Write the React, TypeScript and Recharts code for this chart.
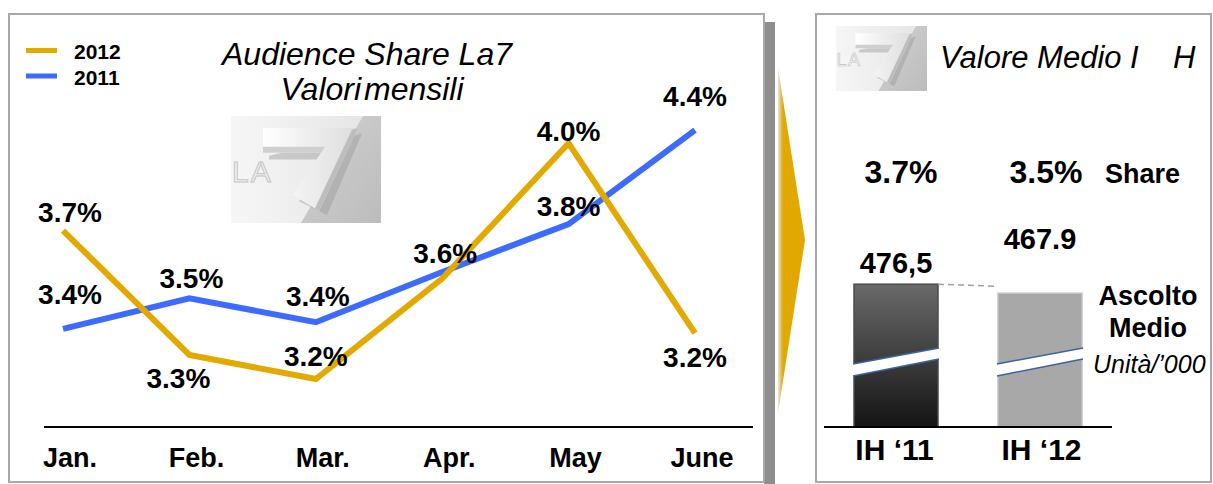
import React from 'react';
import { LineChart, Line, XAxis, YAxis, LabelList, BarChart, Bar, Cell } from 'recharts';

const FONT = '"Liberation Sans", Arial, Helvetica, sans-serif';

// ---------- data ----------
const months = ['Jan.', 'Feb.', 'Mar.', 'Apr.', 'May', 'June'];
const seriesNames = ['2012', '2011'];
const share2012 = [3.8, 3.23, 3.12, 3.58, 4.2, 3.33];
const share2011 = [3.35, 3.49, 3.38, 3.61, 3.83, 4.26];
const labels2012 = ['3.7%', '3.3%', '3.2%', '3.6%', '4.0%', '3.2%'];
const labels2011 = ['3.4%', '3.5%', '3.4%', '', '3.8%', '4.4%'];

const periods = ['IH \u201811', 'IH \u201812'];
const ascoltoMedio = [476.5, 467.9];
const ascoltoLabels = ['476,5', '467.9'];
const shareHalfYear = ['3.7%', '3.5%'];

// ---------- styles / layout ----------
const YELLOW = '#E2AA00';
const BLUE = '#3D6BFF';
const seriesColors = [YELLOW, BLUE];
const off2012 = [[7, -19], [-11, 23], [0, -23], [3, -26], [0, -12], [0, 24]];
const off2011 = [[7, -35], [2, -20], [2, -26], [0, 0], [0, -18], [0, -34]];
const monthDx = 7;
const barFills = ['url(#darkBar)', '#A8A8A8'];
const barStrokes = ['#4a4a4a', '#C2C2C2'];
const barLabelDy = [-11, -44];
const shareDx = [5, 6];
const periodDx = [-1.5, 1.5];

const lineData = months.map((m, i) => ({
  month: m,
  s2012: share2012[i],
  s2011: share2011[i],
  l2012: labels2012[i],
  l2011: labels2011[i],
}));

const barData = periods.map((p, i) => ({
  period: p,
  value: ascoltoMedio[i],
  valueLabel: ascoltoLabels[i],
  share: shareHalfYear[i],
}));

const pointLabel = (texts: string[], offs: number[][]) => (props: any) => {
  const { x, y, index } = props;
  const t = texts[index];
  if (!t) return null;
  const [dx, dy] = offs[index];
  return (
    <text x={Number(x) + dx} y={Number(y) + dy + 10} textAnchor="middle" fontFamily={FONT} fontWeight={700} fontSize={28} fill="#000">
      {t}
    </text>
  );
};

const MonthTick = (props: any) => {
  const { x, y, payload } = props;
  return (
    <text x={x + monthDx} y={y + 32} textAnchor="middle" fontFamily={FONT} fontWeight={700} fontSize={27} fill="#000">
      {payload.value}
    </text>
  );
};

const PeriodTick = (props: any) => {
  const { x, y, payload, index } = props;
  return (
    <text x={x + (periodDx[index] || 0)} y={y + 25} textAnchor="middle" fontFamily={FONT} fontWeight={700} fontSize={30} fill="#000">
      {payload.value}
    </text>
  );
};

const BreakBar = (props: any) => {
  const { x, y, width, height, fill, stroke, index } = props;
  const b = y + height;
  const band = `${x - 1},${b - 63} ${x + width + 1},${b - 79} ${x + width + 1},${b - 68} ${x - 1},${b - 51}`;
  return (
    <g>
      <rect x={x} y={y} width={width} height={height} fill={fill} stroke={stroke} strokeWidth={1.5} />
      <polygon points={band} fill="#fff" />
      <line x1={x - 1} y1={b - 63} x2={x + width + 1} y2={b - 79} stroke="#3C64A0" strokeWidth={1.5} />
      <line x1={x - 1} y1={b - 51} x2={x + width + 1} y2={b - 68} stroke="#3C64A0" strokeWidth={1.5} />
      {index === 0 && (
        <line x1={x + width} y1={y} x2={x + width + 58} y2={y + 2} stroke="#A0A0A0" strokeWidth={1.5} strokeDasharray="6 4" />
      )}
    </g>
  );
};

const barValueLabel = (props: any) => {
  const { x, y, width, index, value } = props;
  return (
    <text x={Number(x) + Number(width) / 2} y={Number(y) + barLabelDy[index]} textAnchor="middle" fontFamily={FONT} fontWeight={700} fontSize={29} fill="#000">
      {value}
    </text>
  );
};

const shareLabel = (props: any) => {
  const { x, width, index, value } = props;
  return (
    <text x={Number(x) + Number(width) / 2 + shareDx[index]} y={183} textAnchor="middle" fontFamily={FONT} fontWeight={700} fontSize={32} fill="#000">
      {value}
    </text>
  );
};

const Logo = ({ x, y, w, h, id }: { x: number; y: number; w: number; h: number; id: string }) => (
  <svg x={x} y={y} width={w} height={h} viewBox="0 0 150 108" preserveAspectRatio="none">
    <defs>
      <linearGradient id={id + 'bg'} x1="0" y1="0" x2="1" y2="0">
        <stop offset="0" stopColor="#f6f6f6" />
        <stop offset="1" stopColor="#e4e4e4" />
      </linearGradient>
      <linearGradient id={id + 'gr'} x1="0" y1="0" x2="1" y2="1">
        <stop offset="0" stopColor="#d2d2d2" />
        <stop offset="1" stopColor="#bcbcbc" />
      </linearGradient>
      <linearGradient id={id + 'sv'} x1="0" y1="0" x2="1" y2="0">
        <stop offset="0" stopColor="#ffffff" />
        <stop offset="1" stopColor="#dcdcdc" />
      </linearGradient>
    </defs>
    <rect x={0} y={0} width={150} height={108} fill={`url(#${id}bg)`} />
    <polygon points="132,0 150,0 150,108 70,108" fill={`url(#${id}gr)`} />
    <text x={1} y={67} fontFamily={FONT} fontSize={30} fill="#f2f2f2" stroke="#c4c4c4" strokeWidth={1} letterSpacing={2}>LA</text>
    <polygon points="38,40 131,18 96,100 68,86 94,44 38,44" fill="#9a9a9a" opacity={0.45} />
    <polygon points="32,12 127,12 88,96 62,80 90,37 32,37" fill={`url(#${id}sv)`} />
    <polygon points="32,31 94,31 90,37 32,37" fill="#cfcfcf" />
    <polygon points="127,12 88,96 84,93 121,14" fill="#bdbdbd" />
  </svg>
);

export default function App() {
  return (
    <div style={{ position: 'absolute', left: 0, top: 0, width: 1213, height: 484, background: '#fff', overflow: 'hidden', fontFamily: FONT }}>
      {/* panels */}
      <div style={{ position: 'absolute', left: 764, top: 22, width: 11, height: 462, background: '#8E8E8E' }} />
      <div style={{ position: 'absolute', left: 8, top: 13, width: 757, height: 470, border: '2px solid #A8A8A8', boxSizing: 'border-box', background: '#fff' }} />
      <div style={{ position: 'absolute', left: 815, top: 13, width: 397, height: 470, border: '2px solid #A8A8A8', boxSizing: 'border-box', background: '#fff' }} />

      {/* static overlay */}
      <svg style={{ position: 'absolute', left: 0, top: 0 }} width={1213} height={484}>
        <defs>
          <linearGradient id="arrowGrad" x1="0" y1="0" x2="1" y2="0">
            <stop offset="0" stopColor="#e6e6e6" />
            <stop offset="0.18" stopColor="#E0A800" />
            <stop offset="1" stopColor="#E0A800" />
          </linearGradient>
        </defs>
        <polygon points="778,68 805,240 778,413" fill="url(#arrowGrad)" />

        {/* legend */}
        {seriesNames.map((n, i) => (
          <g key={n}>
            <rect x={26} y={48 + i * 25.5} width={31} height={5} fill={seriesColors[i]} />
            <text x={74} y={59 + i * 25.5} fontFamily={FONT} fontWeight={700} fontSize={21} fill="#000">{n}</text>
          </g>
        ))}

        {/* title */}
        <text x={367} y={65} textAnchor="middle" fontFamily={FONT} fontStyle="italic" fontSize={32} fill="#000">Audience Share La7</text>
        <text x={372} y={100} textAnchor="middle" fontFamily={FONT} fontStyle="italic" fontSize={32} wordSpacing={-6} fill="#000">Valori mensili</text>

        <Logo x={231} y={116} w={150} h={107} id="lg1" />
        <Logo x={836} y={26} w={91} h={65} id="lg2" />

        {/* right panel texts */}
        <text x={940} y={68} fontFamily={FONT} fontStyle="italic" fontSize={31} fill="#000">
          Valore Medio I
          <tspan x={1173}>H</tspan>
        </text>
        <text x={1105} y={183} fontFamily={FONT} fontWeight={700} fontSize={27} fill="#000">Share</text>
        <text x={1148} y={305} textAnchor="middle" fontFamily={FONT} fontWeight={700} fontSize={27} fill="#000">Ascolto</text>
        <text x={1148} y={337} textAnchor="middle" fontFamily={FONT} fontWeight={700} fontSize={27} fill="#000">Medio</text>
        <text x={1093} y={373} fontFamily={FONT} fontStyle="italic" fontSize={25} fill="#000">Unità/’000</text>
      </svg>

      {/* line chart */}
      <div style={{ position: 'absolute', left: 0, top: 0 }}>
        <LineChart width={765} height={484} data={lineData} margin={{ top: 56, right: 12, bottom: 0, left: 44 }}>
          <XAxis
            dataKey="month"
            height={57}
            padding={{ left: 19, right: 58 }}
            axisLine={{ stroke: '#000', strokeWidth: 2 }}
            tickLine={false}
            tick={<MonthTick />}
            interval={0}
          />
          <YAxis hide domain={[2.9, 4.6]} allowDataOverflow />
          <Line type="linear" dataKey="s2011" stroke={BLUE} strokeWidth={6} dot={false} activeDot={false} isAnimationActive={false}>
            <LabelList dataKey="l2011" content={pointLabel(labels2011, off2011)} />
          </Line>
          <Line type="linear" dataKey="s2012" stroke={YELLOW} strokeWidth={6} dot={false} activeDot={false} isAnimationActive={false}>
            <LabelList dataKey="l2012" content={pointLabel(labels2012, off2012)} />
          </Line>
        </LineChart>
      </div>

      {/* bar chart */}
      <div style={{ position: 'absolute', left: 816, top: 0 }}>
        <BarChart width={397} height={484} data={barData} margin={{ top: 155, right: 101, bottom: 0, left: 8 }} barSize={84}>
          <defs>
            <linearGradient id="darkBar" x1="0" y1="0" x2="0" y2="1">
              <stop offset="0" stopColor="#6A6A6A" />
              <stop offset="1" stopColor="#141414" />
            </linearGradient>
          </defs>
          <XAxis
            dataKey="period"
            height={57}
            axisLine={{ stroke: '#000', strokeWidth: 2 }}
            tickLine={false}
            tick={<PeriodTick />}
            interval={0}
          />
          <YAxis hide domain={[340, 600]} allowDataOverflow />
          <Bar dataKey="value" shape={BreakBar} isAnimationActive={false}>
            {barData.map((d, i) => (
              <Cell key={d.period} fill={barFills[i]} stroke={barStrokes[i]} />
            ))}
            <LabelList dataKey="valueLabel" content={barValueLabel} />
            <LabelList dataKey="share" content={shareLabel} />
          </Bar>
        </BarChart>
      </div>
    </div>
  );
}
